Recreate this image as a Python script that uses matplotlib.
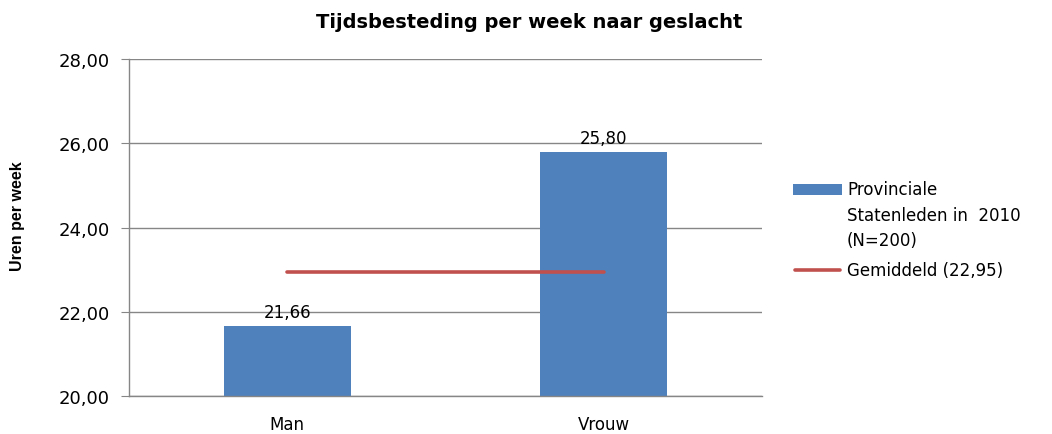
import matplotlib
matplotlib.use("Agg")
from matplotlib import pyplot as plt
from matplotlib.patches import Rectangle
from matplotlib.lines import Line2D

# data
categories = ["Man", "Vrouw"]
hours = [21.66, 25.80]
average = 22.95
y_ticks = [20, 22, 24, 26, 28]
legend_labels = ["Provinciale\nStatenleden in  2010\n(N=200)", "Gemiddeld (22,95)"]

blue = "#4F81BD"
red = "#C0504D"
grey = "#868686"

plt.rcParams['font.family'] = ['DejaVu Sans']

W, H = 1052, 435
fig = plt.figure(figsize=(W / 100, H / 100), dpi=100)
ax = fig.add_axes([0.1226, 0.0874, 0.6017, 0.7746])

x = list(range(len(categories)))
ax.bar(x, hours, width=0.40, color=blue, zorder=2)
ax.plot(x, [average] * len(x), color=red, linewidth=2.6, solid_capstyle='round', zorder=3)

# value labels above bars
for xi, v in zip(x, hours):
    ax.text(xi, v + 0.12, f"{v:.2f}".replace(".", ","), ha='center', va='bottom', fontsize=12)

ax.set_xlim(-0.5, 1.5)
ax.set_ylim(20, 28)
ax.set_yticks(y_ticks)
ax.set_yticklabels([f"{t:.2f}".replace(".", ",") for t in y_ticks], fontsize=13)
ax.set_xticks(x)
ax.set_xticklabels(categories, fontsize=12)
ax.tick_params(axis='x', length=0, pad=14)
ax.tick_params(axis='y', length=6, color=grey, pad=8)

ax.yaxis.grid(True, color=grey, linewidth=1.0, zorder=0)
ax.set_axisbelow(True)
for s in ['top', 'right']:
    ax.spines[s].set_visible(False)
for s in ['left', 'bottom']:
    ax.spines[s].set_color(grey)
    ax.spines[s].set_linewidth(1.0)

fig.text(18 / W, 1 - 216 / H, "Uren per week", rotation=90, ha='center', va='center',
         fontsize=11.5, fontweight='bold', family='Liberation Sans')
fig.text(0.5035, 1 - 22 / H, "Tijdsbesteding per week naar geslacht", ha='center', va='center',
         fontsize=14, fontweight='bold')

# legend drawn by hand to match spacing
fig.add_artist(Rectangle((793 / W, 1 - 196 / H), 49 / W, 11 / H, transform=fig.transFigure,
                         facecolor=blue, edgecolor='none'))
fig.text(847 / W, 1 - 181 / H, legend_labels[0], ha='left', va='top', fontsize=12, linespacing=1.55)
fig.add_artist(Line2D([795 / W, 840 / W], [1 - 271 / H] * 2, transform=fig.transFigure,
                      color=red, linewidth=2.6, solid_capstyle='round'))
fig.text(847 / W, 1 - 271 / H, legend_labels[1], ha='left', va='center', fontsize=12)

plt.savefig("out.png", dpi=100)
